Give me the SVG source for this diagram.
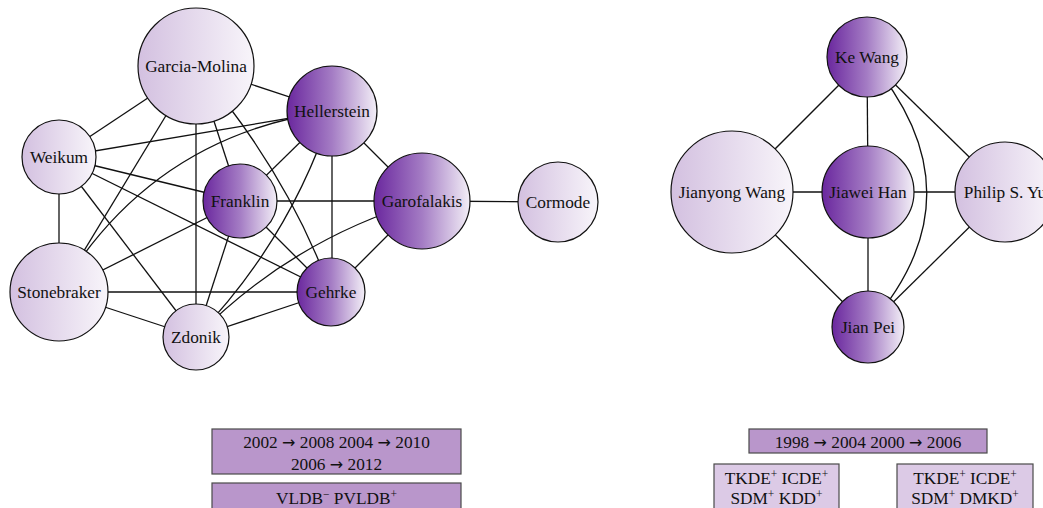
<svg xmlns="http://www.w3.org/2000/svg" width="1043" height="508" viewBox="0 0 1043 508">
  <defs>
    <linearGradient id="gDark" x1="0" y1="0" x2="1" y2="0">
      <stop offset="0" stop-color="#6a279e"/>
      <stop offset="0.5" stop-color="#a47cc4"/>
      <stop offset="1" stop-color="#f3eff7"/>
    </linearGradient>
    <linearGradient id="gLight" x1="0" y1="0" x2="1" y2="0">
      <stop offset="0" stop-color="#d3c0e0"/>
      <stop offset="1" stop-color="#f8f5fa"/>
    </linearGradient>
    <style>
      .edge { fill: none; stroke: #111; stroke-width: 1.3; }
      .dark { fill: url(#gDark); stroke: #111; stroke-width: 1.2; }
      .light { fill: url(#gLight); stroke: #111; stroke-width: 1.2; }
      .lbl { font-family: "Liberation Serif", "Times New Roman", serif; font-size: 17.3px; fill: #111; text-anchor: middle; }
      .arr { font-family: "DejaVu Sans", sans-serif; font-size: 16px; }
      .box { fill: #b996cb; stroke: #4a4a4a; stroke-width: 1.2; }
      .boxLight { fill: #dccae6; stroke: #4a4a4a; stroke-width: 1.2; }
      .sup { font-size: 11.5px; }
    </style>
  </defs>

  <!-- connectors -->
  <g id="edges">
    <!-- left network -->
    <line class="edge" x1="196" y1="66" x2="332" y2="111"/>
    <line class="edge" x1="196" y1="66" x2="59" y2="157"/>
    <line class="edge" x1="196" y1="66" x2="59" y2="292"/>
    <line class="edge" x1="196" y1="66" x2="196" y2="337"/>
    <line class="edge" x1="196" y1="66" x2="240" y2="201"/>
    <path class="edge" d="M196,66 Q287,171 331,292"/>
    <line class="edge" x1="332" y1="111" x2="59" y2="157"/>
    <line class="edge" x1="332" y1="111" x2="240" y2="201"/>
    <line class="edge" x1="332" y1="111" x2="332" y2="292"/>
    <line class="edge" x1="332" y1="111" x2="422" y2="201"/>
    <path class="edge" d="M332,111 Q152,135 59,292"/>
    <path class="edge" d="M332,111 Q290,240 196,337"/>
    <line class="edge" x1="59" y1="157" x2="59" y2="292"/>
    <line class="edge" x1="59" y1="157" x2="240" y2="201"/>
    <line class="edge" x1="59" y1="157" x2="331" y2="292"/>
    <line class="edge" x1="59" y1="157" x2="196" y2="337"/>
    <line class="edge" x1="59" y1="292" x2="240" y2="201"/>
    <line class="edge" x1="59" y1="292" x2="331" y2="292"/>
    <line class="edge" x1="59" y1="292" x2="196" y2="337"/>
    <line class="edge" x1="240" y1="201" x2="422" y2="201"/>
    <line class="edge" x1="240" y1="201" x2="196" y2="337"/>
    <line class="edge" x1="240" y1="201" x2="331" y2="292"/>
    <line class="edge" x1="196" y1="337" x2="331" y2="292"/>
    <path class="edge" d="M422,201 Q291,240 196,337"/>
    <line class="edge" x1="422" y1="201" x2="331" y2="292"/>
    <line class="edge" x1="422" y1="201" x2="558" y2="202"/>
    <!-- right network -->
    <line class="edge" x1="867" y1="57" x2="732" y2="192"/>
    <line class="edge" x1="867" y1="57" x2="868" y2="192"/>
    <line class="edge" x1="867" y1="57" x2="1005" y2="192"/>
    <path class="edge" d="M867,57 Q986,194 868,327"/>
    <line class="edge" x1="732" y1="192" x2="1005" y2="192"/>
    <line class="edge" x1="732" y1="192" x2="868" y2="327"/>
    <line class="edge" x1="868" y1="192" x2="868" y2="327"/>
    <line class="edge" x1="1005" y1="192" x2="868" y2="327"/>
  </g>

  <!-- left network nodes -->
  <g id="garcia-molina">
    <circle class="light" cx="196" cy="66" r="58"/>
    <text class="lbl" x="196" y="72">Garcia-Molina</text>
  </g>
  <g id="hellerstein">
    <circle class="dark" cx="332" cy="111" r="45"/>
    <text class="lbl" x="332" y="117">Hellerstein</text>
  </g>
  <g id="weikum">
    <circle class="light" cx="59" cy="157" r="37"/>
    <text class="lbl" x="59" y="163">Weikum</text>
  </g>
  <g id="franklin">
    <circle class="dark" cx="240" cy="201" r="37"/>
    <text class="lbl" x="240" y="207">Franklin</text>
  </g>
  <g id="garofalakis">
    <circle class="dark" cx="422" cy="201" r="48"/>
    <text class="lbl" x="422" y="207">Garofalakis</text>
  </g>
  <g id="cormode">
    <circle class="light" cx="558" cy="202" r="40"/>
    <text class="lbl" x="558" y="208">Cormode</text>
  </g>
  <g id="stonebraker">
    <circle class="light" cx="59" cy="292" r="49"/>
    <text class="lbl" x="59" y="298">Stonebraker</text>
  </g>
  <g id="gehrke">
    <circle class="dark" cx="331" cy="292" r="34"/>
    <text class="lbl" x="331" y="298">Gehrke</text>
  </g>
  <g id="zdonik">
    <circle class="light" cx="196" cy="337" r="33"/>
    <text class="lbl" x="196" y="343">Zdonik</text>
  </g>

  <!-- right network nodes -->
  <g id="ke-wang">
    <circle class="dark" cx="867" cy="57" r="40"/>
    <text class="lbl" x="867" y="63">Ke Wang</text>
  </g>
  <g id="jianyong-wang">
    <circle class="light" cx="732" cy="192" r="61"/>
    <text class="lbl" x="732" y="198">Jianyong Wang</text>
  </g>
  <g id="jiawei-han">
    <circle class="dark" cx="868" cy="192" r="46"/>
    <text class="lbl" x="868" y="198">Jiawei Han</text>
  </g>
  <g id="philip-yu">
    <circle class="light" cx="1005" cy="192" r="50"/>
    <text class="lbl" x="1005" y="198">Philip S. Yu</text>
  </g>
  <g id="jian-pei">
    <circle class="dark" cx="868" cy="327" r="36"/>
    <text class="lbl" x="868" y="333">Jian Pei</text>
  </g>

  <!-- period and venue boxes -->
  <g id="box-years-left">
    <rect class="box" x="212" y="429" width="249" height="45"/>
    <text class="lbl" x="336.5" y="448">2002 <tspan class="arr">→</tspan> 2008 2004 <tspan class="arr">→</tspan> 2010</text>
    <text class="lbl" x="336.5" y="470">2006 <tspan class="arr">→</tspan> 2012</text>
  </g>
  <g id="box-venues-left">
    <rect class="box" x="212" y="483" width="249" height="40"/>
    <text class="lbl" x="336.5" y="504">VLDB<tspan class="sup" dy="-6">−</tspan><tspan dy="6"> PVLDB</tspan><tspan class="sup" dy="-6">+</tspan></text>
  </g>
  <g id="box-years-right">
    <rect class="box" x="749" y="429" width="238" height="24"/>
    <text class="lbl" x="868" y="448">1998 <tspan class="arr">→</tspan> 2004 2000 <tspan class="arr">→</tspan> 2006</text>
  </g>
  <g id="box-venues-a">
    <rect class="boxLight" x="714" y="464" width="125" height="60"/>
    <text class="lbl" x="776.5" y="484">TKDE<tspan class="sup" dy="-6">+</tspan><tspan dy="6"> ICDE</tspan><tspan class="sup" dy="-6">+</tspan></text>
    <text class="lbl" x="776.5" y="504">SDM<tspan class="sup" dy="-6">+</tspan><tspan dy="6"> KDD</tspan><tspan class="sup" dy="-6">+</tspan></text>
  </g>
  <g id="box-venues-b">
    <rect class="boxLight" x="897" y="464" width="136" height="60"/>
    <text class="lbl" x="965" y="484">TKDE<tspan class="sup" dy="-6">+</tspan><tspan dy="6"> ICDE</tspan><tspan class="sup" dy="-6">+</tspan></text>
    <text class="lbl" x="965" y="504">SDM<tspan class="sup" dy="-6">+</tspan><tspan dy="6"> DMKD</tspan><tspan class="sup" dy="-6">+</tspan></text>
  </g>
</svg>
